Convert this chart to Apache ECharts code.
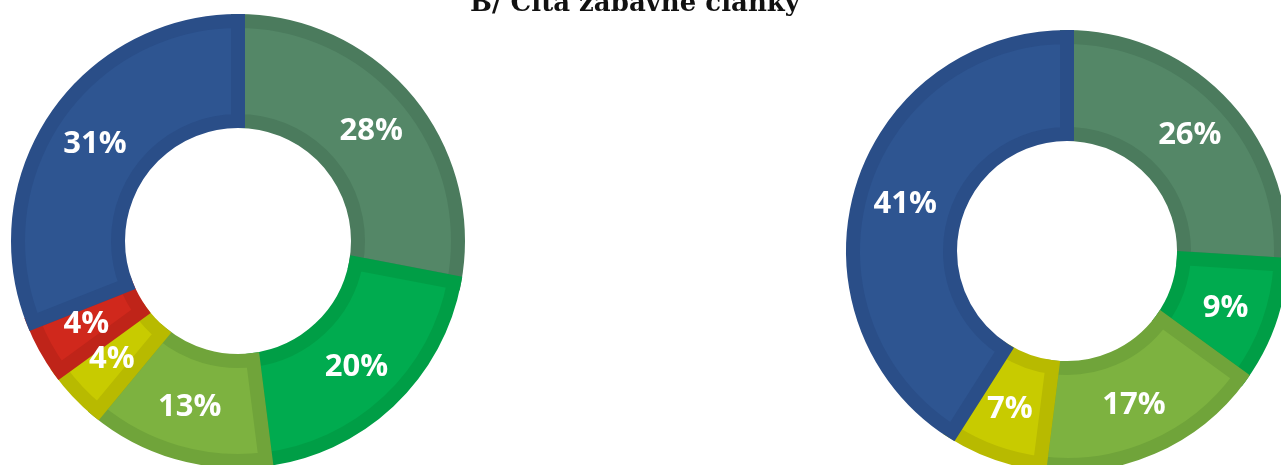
<!DOCTYPE html>
<html>
<head>
<meta charset="utf-8">
<script src="https://cdn.jsdelivr.net/npm/echarts@6/dist/echarts.min.js"></script>
<style>
  html, body { margin: 0; padding: 0; background: #fff; }
  #chart { width: 1281px; height: 465px; }
</style>
</head>
<body>
<div id="chart"></div>
<script>
// values (percent, clockwise from 12 o'clock)
var leftCategories = ['k1', 'k2', 'k3', 'k4', 'k5', 'k6'];
var leftValues = [28, 20, 13, 4, 4, 31];
var rightCategories = ['k1', 'k2', 'k3', 'k4', 'k6'];
var rightValues = [26, 9, 17, 7, 41];
var titleText = 'B/ Číta zábavné články';

var fills = {
  k1: '#548767', k2: '#00AB4F', k3: '#7DB240',
  k4: '#C8CB00', k5: '#D0281C', k6: '#2E5591'
};
var borders = {
  k1: '#4B7B5D', k2: '#009E46', k3: '#70A43A',
  k4: '#B8BA00', k5: '#BF2419', k6: '#2A4E88'
};

function buildData(cats, vals) {
  return cats.map(function(c, i) {
    return {
      name: c,
      value: vals[i],
      itemStyle: { color: fills[c], borderColor: borders[c] }
    };
  });
}

function donut(cats, vals, center, inner, outer) {
  return {
    type: 'pie',
    center: center,
    radius: [inner, outer],
    startAngle: 90,
    clockwise: true,
    avoidLabelOverlap: false,
    silent: true,
    itemStyle: { borderWidth: 14, borderJoin: 'miter', borderMiterLimit: 20 },
    label: {
      show: true,
      position: 'inside',
      formatter: '{c}%',
      color: '#fff',
      fontFamily: 'Open Sans',
      fontWeight: 'bold',
      fontSize: 31
    },
    labelLine: { show: false },
    data: buildData(cats, vals)
  };
}

var chart = echarts.init(document.getElementById('chart'));
chart.setOption({
  animation: false,
  backgroundColor: '#fff',
  title: {
    text: titleText,
    left: 630,
    textAlign: 'center',
    top: -14,
    textStyle: {
      fontFamily: 'DejaVu Serif',
      fontWeight: 'bold',
      fontSize: 26,
      color: '#111'
    }
  },
  series: [
    donut(leftCategories, leftValues, [238, 241], 120, 220),
    donut(rightCategories, rightValues, [1067, 251], 117, 214)
  ]
});
</script>
</body>
</html>
